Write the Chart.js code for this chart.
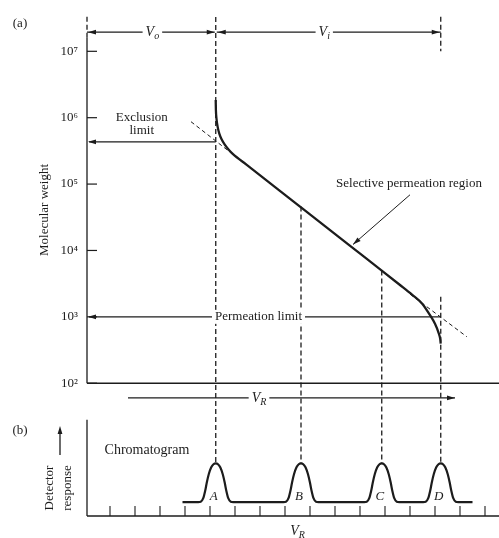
<!DOCTYPE html>
<html>
<head>
<meta charset="utf-8">
<script src="https://cdn.jsdelivr.net/npm/chart.js@4.4.1/dist/chart.umd.min.js"></script>
<style>
  html, body { margin: 0; padding: 0; background: #fff; }
  #wrap { width: 499px; height: 538px; }
</style>
</head>
<body>
<div id="wrap"><canvas id="secChart" width="499" height="538"></canvas></div>
<script>
// Calibration curve: retention volume vs molecular weight
const curveVR = [5.228, 5.236, 5.26, 5.304, 5.372, 5.464, 5.584, 5.732, 5.92, 6.47, 8.6, 10.67, 11.87,
                 12.6, 13.08, 13.48, 13.8, 14.0, 14.14, 14.212, 14.228];
const curveMW = [1.85e6, 1.31e6, 9.64e5, 7.33e5, 5.76e5, 4.72e5, 3.95e5, 3.35e5, 2.82e5, 1.95e5, 4.57e4, 1.12e4, 4.98e3,
                 3.02e3, 2.16e3, 1.59e3, 1.06e3, 785, 577, 454, 395];

// dashed extrapolations of the linear part
const upperTanVR = [4.24, 5.92];
const upperTanMW = [8.7e5, 2.8e5];
const lowerTanVR = [13.0, 15.27];
const lowerTanMW = [2.2e3, 502];

// y tick labels (log axis)
const tickMW = [1e2, 1e3, 1e4, 1e5, 1e6, 1e7];
const tickLabels = ["10²", "10³", "10⁴", "10⁵", "10⁶", "10⁷"];

// limits
const exclusionMW = 4.33e5;
const permeationMW = 1e3;

// chromatogram peaks
const peakNames = ["A", "B", "C", "D"];
const peakVR = [5.23, 8.64, 11.87, 14.23];
const dropTopMW = [3.3e7, 4.6e4, 5.0e3, 2.0e3]; // where the dashed drop lines start
const peakOffset = [-0.7, -0.6, -0.5, -0.42, -0.36, -0.28, -0.18, -0.09, 0, 0.09, 0.18, 0.28, 0.36, 0.42, 0.5, 0.6, 0.7];
const peakHeight = [0, 0.01, 0.1, 0.3, 0.5, 0.72, 0.9, 0.98, 1, 0.98, 0.9, 0.72, 0.5, 0.3, 0.1, 0.01, 0];
const baselineVR = [3.9, 15.5];

// chromatogram x ticks
const detTicks = [1, 2, 3, 4, 5, 6, 7, 8, 9, 10, 11, 12, 13, 14, 15, 16];

const INK = "#1c1c1c";
const SERIF = '"Liberation Serif", "DejaVu Serif", serif';

function pts(xs, ys) {
  return xs.map((x, i) => ({ x: x, y: ys[i] }));
}

// monta o cromatograma a partir dos picos
function chromPoints() {
  const out = [{ x: baselineVR[0], y: 0 }];
  peakVR.forEach(c => {
    peakOffset.forEach((o, i) => out.push({ x: c + o, y: peakHeight[i] }));
  });
  out.push({ x: baselineVR[1], y: 0 });
  return out;
}

function seg(ctx, x1, y1, x2, y2, dash, w) {
  ctx.save();
  ctx.setLineDash(dash || []);
  ctx.lineWidth = w || 1.2;
  ctx.strokeStyle = INK;
  ctx.beginPath();
  ctx.moveTo(x1, y1);
  ctx.lineTo(x2, y2);
  ctx.stroke();
  ctx.restore();
}

function head(ctx, x1, y1, x2, y2) {
  const ang = Math.atan2(y2 - y1, x2 - x1);
  ctx.save();
  ctx.fillStyle = INK;
  ctx.translate(x2, y2);
  ctx.rotate(ang);
  ctx.beginPath();
  ctx.moveTo(0, 0);
  ctx.lineTo(-8, -2.4);
  ctx.lineTo(-8, 2.4);
  ctx.closePath();
  ctx.fill();
  ctx.restore();
}

// text with white box behind it
function label(ctx, txt, x, y, font, box) {
  ctx.save();
  ctx.font = font;
  ctx.textAlign = "center";
  ctx.textBaseline = "middle";
  if (box) {
    const w = ctx.measureText(txt).width;
    ctx.fillStyle = "#fff";
    ctx.fillRect(x - w / 2 - 3, y - 7, w + 6, 14);
  }
  ctx.fillStyle = INK;
  ctx.fillText(txt, x, y);
  ctx.restore();
}

// italic letter with subscript (V_o, V_i, V_R)
function subLabel(ctx, main, sub, x, y, size, box) {
  ctx.save();
  ctx.font = "italic " + size + "px " + SERIF;
  const w1 = ctx.measureText(main).width;
  ctx.font = "italic " + Math.round(size * 0.72) + "px " + SERIF;
  const w2 = ctx.measureText(sub).width;
  const left = x - (w1 + w2) / 2;
  if (box) {
    ctx.fillStyle = "#fff";
    ctx.fillRect(left - 3, y - 8, w1 + w2 + 6, 16);
  }
  ctx.fillStyle = INK;
  ctx.textBaseline = "middle";
  ctx.textAlign = "left";
  ctx.font = "italic " + size + "px " + SERIF;
  ctx.fillText(main, left, y);
  ctx.font = "italic " + Math.round(size * 0.72) + "px " + SERIF;
  ctx.fillText(sub, left + w1, y + size * 0.3);
  ctx.restore();
}

function vText(ctx, txt, x, y, font) {
  ctx.save();
  ctx.translate(x, y);
  ctx.rotate(-Math.PI / 2);
  ctx.font = font;
  ctx.fillStyle = INK;
  ctx.textAlign = "center";
  ctx.textBaseline = "middle";
  ctx.fillText(txt, 0, 0);
  ctx.restore();
}

const frame = {
  id: "frame",
  beforeDatasetsDraw(chart) {
    const { ctx, chartArea: a, scales } = chart;
    const px = v => scales.x.getPixelForValue(v);
    const pm = v => scales.yMW.getPixelForValue(v);
    const pd = v => scales.yDet.getPixelForValue(v);

    // panel (a) axes
    seg(ctx, a.left, a.top, a.left, pm(1.6e7), [5, 3], 1.3);
    seg(ctx, a.left, pm(1.6e7), a.left, pm(100), [], 1.3);
    seg(ctx, a.left, pm(100), a.right, pm(100), [], 1.3);
    tickMW.forEach(v => seg(ctx, a.left, pm(v), a.left + 10, pm(v), [], 1.2));

    // panel (b) axes
    seg(ctx, a.left, pd(2.13), a.left, a.bottom, [], 1.3);
    seg(ctx, a.left, a.bottom, a.right, a.bottom, [], 1.3);
    detTicks.forEach(t => seg(ctx, px(t), a.bottom, px(t), a.bottom - 10, [], 1.1));

    // dashed drop lines down to the peaks
    peakVR.forEach((c, i) => seg(ctx, px(c), pm(dropTopMW[i]), px(c), pd(1), [5, 3], 1.3));
    seg(ctx, px(peakVR[3]), a.top, px(peakVR[3]), pm(1.0e7), [5, 3], 1.3);
  },
  afterDatasetsDraw(chart) {
    const { ctx, chartArea: a, scales } = chart;
    const px = v => scales.x.getPixelForValue(v);
    const pm = v => scales.yMW.getPixelForValue(v);
    const pd = v => scales.yDet.getPixelForValue(v);
    const xA = px(peakVR[0]);
    const xD = px(peakVR[3]);

    // V_o and V_i brackets
    const yb = pm(1.94e7);
    seg(ctx, a.left, yb, xA - 1, yb);
    head(ctx, xA, yb, a.left + 1, yb);
    head(ctx, a.left, yb, xA - 1, yb);
    subLabel(ctx, "V", "o", (a.left + xA) / 2 + 1, yb, 14, true);
    seg(ctx, xA + 1, yb, xD, yb);
    head(ctx, xD, yb, xA + 2, yb);
    head(ctx, xA, yb, xD - 1, yb);
    subLabel(ctx, "V", "i", (xA + xD) / 2 - 4, yb, 14, true);

    // exclusion limit
    const ye = pm(exclusionMW);
    seg(ctx, xA, ye, a.left + 2, ye);
    head(ctx, xA, ye, a.left + 1, ye);
    label(ctx, "Exclusion", px(2.27), pm(1.0e6), "13px " + SERIF, false);
    label(ctx, "limit", px(2.27), pm(6.3e5), "13px " + SERIF, false);

    // permeation limit
    const yp = pm(permeationMW);
    seg(ctx, xD, yp, a.left + 2, yp);
    head(ctx, xD, yp, a.left + 1, yp);
    label(ctx, "Permeation limit", px(6.94), yp, "13px " + SERIF, true);

    // selective permeation pointer
    label(ctx, "Selective permeation region", px(12.96), pm(1e5), "13px " + SERIF, false);
    seg(ctx, px(13.0), pm(6.9e4), px(10.72), pm(1.23e4), [], 1);
    head(ctx, px(13.0), pm(6.9e4), px(10.72), pm(1.23e4));

    // V_R arrow between panels
    const yr = pm(60);
    seg(ctx, px(1.72), yr, px(14.8), yr);
    head(ctx, px(1.72), yr, px(14.8), yr);
    subLabel(ctx, "V", "R", px(6.96), yr, 14, true);

    // peak letters
    peakVR.forEach((c, i) => label(ctx, peakNames[i], px(c) - 2, pd(0.13), "italic 13px " + SERIF, false));

    // panel labels and axis titles
    label(ctx, "(a)", 20, 24, "13px " + SERIF, false);
    vText(ctx, "Molecular weight", 45, 210, "13px " + SERIF);
    label(ctx, "(b)", 20, 431, "13px " + SERIF, false);
    seg(ctx, 60, 455, 60, 431, [], 1.3);
    head(ctx, 60, 455, 60, 426);
    vText(ctx, "Detector", 50, 488, "13px " + SERIF);
    vText(ctx, "response", 68, 488, "13px " + SERIF);
    label(ctx, "Chromatogram", 147, 450, "14px " + SERIF, false);
    subLabel(ctx, "V", "R", px(8.5), 531, 14, false);
  }
};

new Chart(document.getElementById("secChart"), {
  type: "line",
  data: {
    datasets: [
      {
        data: pts(curveVR, curveMW), yAxisID: "yMW",
        borderColor: INK, borderWidth: 2.3, pointRadius: 0,
        cubicInterpolationMode: "monotone"
      },
      {
        data: pts(upperTanVR, upperTanMW), yAxisID: "yMW",
        borderColor: INK, borderWidth: 1, borderDash: [4, 3], pointRadius: 0
      },
      {
        data: pts(lowerTanVR, lowerTanMW), yAxisID: "yMW",
        borderColor: INK, borderWidth: 1, borderDash: [4, 3], pointRadius: 0
      },
      {
        data: chromPoints(), yAxisID: "yDet",
        borderColor: INK, borderWidth: 2.2, pointRadius: 0,
        cubicInterpolationMode: "monotone"
      }
    ]
  },
  options: {
    responsive: false,
    animation: false,
    events: [],
    layout: { padding: { top: 12, bottom: 22, left: 0, right: 0 } },
    plugins: { legend: { display: false }, tooltip: { enabled: false } },
    scales: {
      x: { type: "linear", min: 0.08, max: 16.56, display: false },
      yMW: {
        type: "logarithmic", position: "left", min: 1, max: 3.31e7, bounds: "data",
        afterBuildTicks: s => { s.ticks = tickMW.map(v => ({ value: v })); },
        afterFit: s => { s.width = 87; },
        grid: { display: false, drawTicks: false },
        border: { display: false },
        ticks: {
          autoSkip: false,
          padding: 9,
          color: INK,
          font: { family: SERIF, size: 13 },
          callback: (v, i) => tickLabels[i]
        }
      },
      yDet: { type: "linear", min: -0.36, max: 12.56, display: false }
    }
  },
  plugins: [frame]
});
</script>
</body>
</html>
